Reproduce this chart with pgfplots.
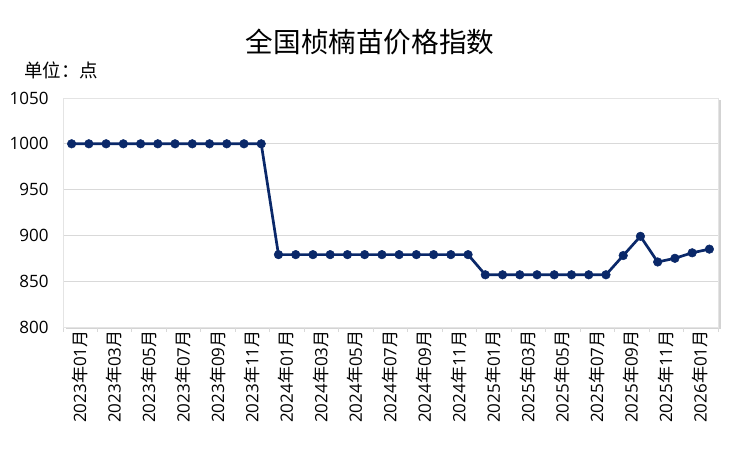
\documentclass[border=0pt]{standalone}
\usepackage{pgfplots}
\pgfplotsset{compat=1.18}
\usepackage{fontspec}
\setmainfont{Open Sans}
\newfontfamily\cjk{Noto Sans CJK SC}
\usetikzlibrary{shadows}
\definecolor{navy}{RGB}{10,40,105}
\definecolor{gridc}{RGB}{217,217,217}
\newcommand{\ym}[2]{#1{\cjk 年}#2{\cjk 月}}
\begin{document}
\begin{tikzpicture}[x=1pt,y=1pt]
\path (0,0) rectangle (738,454);
\node[font=\cjk\fontsize{27.6}{30}\selectfont] at (370,412) {全国桢楠苗价格指数};
\node[font=\cjk\fontsize{18.5}{20}\selectfont] at (61,384) {单位：点};
\begin{axis}[
  at={(63pt,127pt)}, anchor=south west,
  scale only axis, width=655pt, height=229pt,
  xmin=-0.5, xmax=37.5, ymin=800, ymax=1050,
  ytick={800,850,...,1050},
  xtick={0,2,...,36},
  xticklabels={\ym{2023}{01},\ym{2023}{03},\ym{2023}{05},\ym{2023}{07},\ym{2023}{09},\ym{2023}{11},\ym{2024}{01},\ym{2024}{03},\ym{2024}{05},\ym{2024}{07},\ym{2024}{09},\ym{2024}{11},\ym{2025}{01},\ym{2025}{03},\ym{2025}{05},\ym{2025}{07},\ym{2025}{09},\ym{2025}{11},\ym{2026}{01}},
  minor xtick={-0.5,1.5,...,37.5},
  major tick length=0pt,
  minor tick length=5pt,
  minor tick style={gridc, line width=1pt},
  xtick pos=bottom, ytick pos=left,
  tick align=outside,
  ymajorgrids, major grid style={gridc, line width=0.9pt},
  axis line style={gridc!70, line width=0.8pt},
  axis background/.style={fill=white, drop shadow={shadow xshift=2.5pt, shadow yshift=-2.5pt, opacity=0.35}},
  tick label style={font=\fontsize{17}{20}\selectfont},
  /pgf/number format/assume math mode=true,
  /pgf/number format/1000 sep={},
  yticklabel style={xshift=-11pt},
  xticklabel style={rotate=90, anchor=east, yshift=-8pt},
  scaled y ticks=false,
  clip=false,
]
\addplot[navy, line width=2.7pt, mark=*, mark size=4.3pt, mark options={fill=navy, draw=navy, line width=0.5pt}] coordinates {
(0,1000)(1,1000)(2,1000)(3,1000)(4,1000)(5,1000)(6,1000)(7,1000)(8,1000)(9,1000)(10,1000)(11,1000)
(12,879)(13,879)(14,879)(15,879)(16,879)(17,879)(18,879)(19,879)(20,879)(21,879)(22,879)(23,879)
(24,857)(25,857)(26,857)(27,857)(28,857)(29,857)(30,857)(31,857)
(32,878)(33,899)(34,871)(35,875)(36,881)(37,885)
};
\end{axis}
\pgfresetboundingbox
\path (0,0) rectangle (738,454);
\end{tikzpicture}
\end{document}
